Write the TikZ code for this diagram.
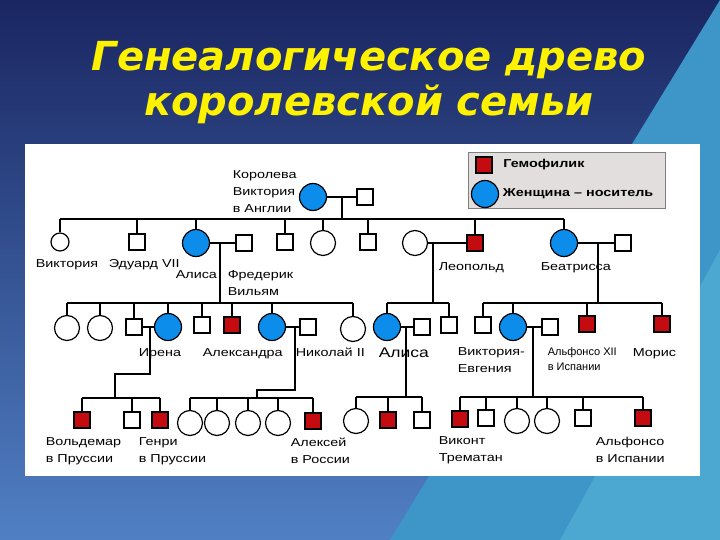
\documentclass[tikz,border=0pt]{standalone}
\usepackage{fontspec}
\setmainfont{Liberation Sans}
\newfontfamily\lblfont[FakeStretch=1.25]{Liberation Sans}
\newfontfamily\titlefont{DejaVu Sans}
\usetikzlibrary{positioning,calc}
\definecolor{hemored}{RGB}{196,12,16}
\definecolor{carrierblue}{RGB}{12,140,235}
\definecolor{navy}{RGB}{26,38,98}
\definecolor{slideblue}{RGB}{80,128,196}
\definecolor{tealA}{RGB}{62,150,200}
\definecolor{tealB}{RGB}{88,180,216}
\definecolor{legendgray}{RGB}{226,222,222}

\begin{document}
\begin{tikzpicture}[x=1pt,y=-1pt,line width=1.6pt,
  male/.style={draw,line width=1.2pt,fill=white,minimum size=16pt,inner sep=0pt},
  hemo/.style={male,fill=hemored},
  female/.style={draw,circle,line width=1.2pt,fill=white,minimum size=25pt,inner sep=0pt},
  carrier/.style={female,fill=carrierblue,minimum size=27pt},
  lbl/.style={font=\lblfont\fontsize{11.5}{17}\selectfont,inner sep=0pt,align=left}]
  % slide background
  \useasboundingbox (0,0) rectangle (720,540);
  \shade[top color=navy,bottom color=slideblue] (0,0) rectangle (720,540);
  \fill[tealA] (720,0) -- (720,540) -- (390,540) -- cycle;
  \fill[tealB,opacity=0.6] (720,250) -- (720,540) -- (560,540) -- cycle;
  \node[text=yellow,font=\titlefont\bfseries\itshape\fontsize{40}{45}\selectfont,align=center] (title) at (369,83) {Генеалогическое древо\\королевской семьи};
  \fill[white] (25,144) rectangle (700,476);
  % legend
  \node[draw=gray,fill=legendgray,line width=1pt,minimum width=197pt,minimum height=56pt,anchor=north west] (legend) at (468,152) {};
  \node[hemo] (lh) at (484,165) {};
  \node[carrier] (lc) at (485,194) {};
  \node[lbl,font=\lblfont\bfseries\fontsize{11.5}{14}\selectfont,right=10pt of lh] (lht) {Гемофилик};
  \node[lbl,font=\lblfont\bfseries\fontsize{11.5}{14}\selectfont,right=3pt of lc] (lct) {Женщина – носитель};
  % generation I
  \node[carrier] (qv) at (313,197) {};
  \node[male] (qa) at (365,197) {};
  \draw (qv) -- (qa);
  \coordinate (m0) at (342,197);
  \coordinate (b0) at (342,219);
  \draw (m0) -- (b0);
  % generation II
  \node[female,minimum size=18pt] (vic) at (60,242) {};
  \node[male] (edw) at (137,242) {};
  \node[carrier] (ali) at (196,243) {};
  \node[male] (fre) at (244,243) {};
  \node[male] (s1) at (285,242) {};
  \node[female] (d1) at (323,243) {};
  \node[male] (s2) at (368,242) {};
  \node[female] (leow) at (415,243) {};
  \node[hemo] (leo) at (475,243) {};
  \node[carrier] (bea) at (564,243) {};
  \node[male] (bh) at (623,243) {};
  \draw (vic |- b0) -- (bea |- b0);
  \foreach \c in {vic,edw,ali,s1,d1,s2,leo,bea} \draw (\c) -- (\c |- b0);
  \draw (ali) -- (fre);
  \draw (leow) -- (leo);
  \draw (bea) -- (bh);
  \coordinate (m1) at (220,243); \coordinate (b1) at (220,303);
  \coordinate (m2) at (433,243); \coordinate (b2) at (433,303);
  \coordinate (m3) at (598,243); \coordinate (b3) at (598,303);
  \draw (m1) -- (b1);
  \draw (m2) -- (b2);
  \draw (m3) -- (b3);
  % generation III
  \node[female] (a1) at (67,328) {};
  \node[female] (a2) at (100,328) {};
  \node[male] (irh) at (134,327) {};
  \node[carrier] (iri) at (168,327) {};
  \node[male] (a5) at (202,325) {};
  \node[hemo] (a6) at (232,325) {};
  \node[carrier] (alx) at (272,327) {};
  \node[male] (nik) at (308,327) {};
  \node[female] (a9) at (353,329) {};
  \draw (a1 |- b1) -- (a9 |- b1);
  \foreach \c in {a1,a2,irh,iri,a5,a6,alx,a9} \draw (\c) -- (\c |- b1);
  \node[carrier] (al2) at (387,327) {};
  \node[male] (alh) at (422,327) {};
  \node[male] (l2) at (449,325) {};
  \draw (al2 |- b2) -- (l2 |- b2);
  \foreach \c in {al2,l2} \draw (\c) -- (\c |- b2);
  \node[male] (bs1) at (483,325) {};
  \node[carrier] (vev) at (513,327) {};
  \node[male] (vh) at (550,327) {};
  \node[hemo] (bs2) at (587,324) {};
  \node[hemo] (mor) at (662,324) {};
  \draw (bs1 |- b3) -- (mor |- b3);
  \foreach \c in {bs1,vev,bs2,mor} \draw (\c) -- (\c |- b3);
  \draw (irh) -- (iri);
  \draw (alx) -- (nik);
  \draw (al2) -- (alh);
  \draw (vev) -- (vh);
  \coordinate (m4) at (150,327); \coordinate (b4) at (115,398);
  \coordinate (m5) at (295,327); \coordinate (b5) at (257,398);
  \coordinate (m6) at (406,327); \coordinate (b6) at (406,397);
  \coordinate (m7) at (533,327); \coordinate (b7) at (533,397);
  \draw (m4) -- ++(0,47) -| (b4);
  \draw (m5) -- ++(0,63) -| (b5);
  \draw (m6) -- (b6);
  \draw (m7) -- (b7);
  % generation IV
  \node[hemo] (w1) at (82,420) {};
  \node[male] (w2) at (132,420) {};
  \node[hemo] (w3) at (160,420) {};
  \draw (w1 |- b4) -- (w3 |- b4);
  \foreach \c in {w1,w2,w3} \draw (\c) -- (\c |- b4);
  \foreach \c/\x in {x1/190,x2/217,x3/248,x4/278} \node[female] (\c) at (\x,423) {};
  \node[hemo] (alex) at (313,421) {};
  \draw (x1 |- b5) -- (alex |- b5);
  \foreach \c in {x1,x2,x3,x4,alex} \draw (\c) -- (\c |- b5);
  \node[female] (y1) at (356,421) {};
  \node[hemo] (y2) at (388,420) {};
  \node[male] (y3) at (422,420) {};
  \draw (y1 |- b6) -- (y3 |- b6);
  \foreach \c in {y1,y2,y3} \draw (\c) -- (\c |- b6);
  \node[hemo] (z1) at (460,419) {};
  \node[male] (z2) at (486,418) {};
  \node[female] (z3) at (517,421) {};
  \node[female] (z4) at (547,421) {};
  \node[male] (z5) at (583,418) {};
  \node[hemo] (z6) at (643,418) {};
  \draw (z1 |- b7) -- (z6 |- b7);
  \foreach \c in {z1,z2,z3,z4,z5,z6} \draw (\c) -- (\c |- b7);
  % names
  \node[lbl,anchor=north west] (tqv) at (232,170) {Королева\\Виктория\\в Англии};
  \node[lbl,anchor=base west] (tvic) at (35,267) {Виктория};
  \node[lbl,anchor=base west] (tedw) at (108,267) {Эдуард VII};
  \node[lbl,anchor=base west] (tali) at (175,278) {Алиса};
  \node[lbl,anchor=north west] (tfre) at (227,270) {Фредерик\\Вильям};
  \node[lbl,anchor=base west] (tleo) at (438,270) {Леопольд};
  \node[lbl,anchor=base west] (tbea) at (540,270) {Беатрисса};
  \node[lbl,anchor=base west] (tiri) at (138,356) {Ирена};
  \node[lbl,anchor=base west] (talx) at (202,356) {Александра};
  \node[lbl,anchor=base west] (tnik) at (295,356) {Николай II};
  \node[lbl,anchor=base west,font=\lblfont\fontsize{14}{17}\selectfont] (tal2) at (378,357) {Алиса};
  \node[lbl,anchor=north west] (tvev) at (457,347) {Виктория-\\Евгения};
  \node[lbl,anchor=north west,font=\fontsize{11}{15}\selectfont] (tvh) at (547,347) {Альфонсо XII\\в Испании};
  \node[lbl,anchor=base west] (tmor) at (632,356) {Морис};
  \node[lbl,anchor=north west] (tw1) at (45,437) {Вольдемар\\в Пруссии};
  \node[lbl,anchor=north west] (tw3) at (138,437) {Генри\\в Пруссии};
  \node[lbl,anchor=north west] (talex) at (290,437) {Алексей\\в России};
  \node[lbl,anchor=north west] (tz1) at (438,436) {Виконт\\Трематан};
  \node[lbl,anchor=north west] (tz6) at (595,436) {Альфонсо\\в Испании};
\end{tikzpicture}
\end{document}
